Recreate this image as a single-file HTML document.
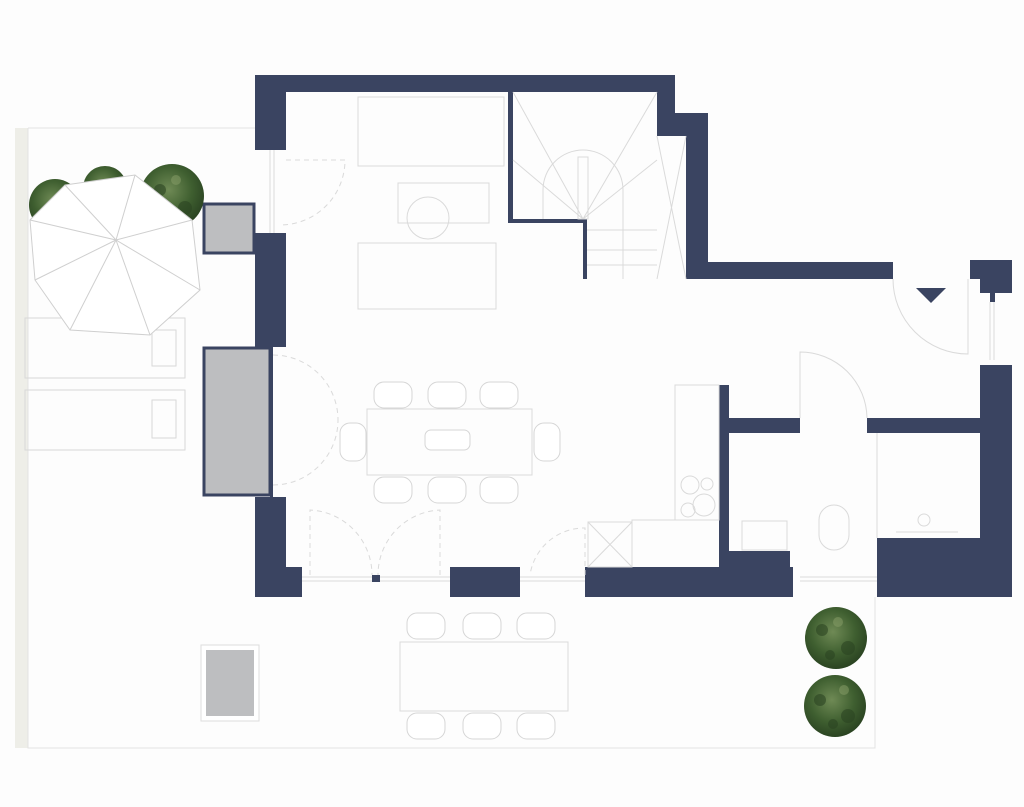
<!DOCTYPE html>
<html><head><meta charset="utf-8"><style>
html,body{margin:0;padding:0;background:#fdfdfd;}
svg{display:block}
</style></head><body>
<svg width="1024" height="807" viewBox="0 0 1024 807" xmlns="http://www.w3.org/2000/svg">
<defs>
<radialGradient id="tr" cx="45%" cy="40%" r="60%">
<stop offset="0" stop-color="#6f8a55"/><stop offset="0.6" stop-color="#3f5f30"/><stop offset="1" stop-color="#2b4422"/>
</radialGradient>
</defs>
<rect width="1024" height="807" fill="#fdfdfd"/>
<!-- terrace -->
<rect x="15" y="128" width="13" height="620" fill="#eeeee8"/>
<path d="M28 128 H255 M28 128 V748 H875 V597" fill="none" stroke="#e2e2e2" stroke-width="1"/>
<!-- gray boxes -->
<rect x="204" y="204" width="50" height="49" fill="#bdbec0" stroke="#3a4461" stroke-width="3"/>
<rect x="204" y="348" width="66" height="147" fill="#bdbec0" stroke="#3a4461" stroke-width="3"/>
<rect x="201" y="645" width="58" height="76" fill="#fff" stroke="#ddd"/>
<rect x="206" y="650" width="48" height="66" fill="#bdbec0"/>
<!-- loungers -->
<g fill="none" stroke="#d8d8d8">
<rect x="25" y="318" width="160" height="60"/><rect x="152" y="330" width="24" height="36"/>
<rect x="25" y="390" width="160" height="60"/><rect x="152" y="400" width="24" height="38"/>
</g>
<!-- trees -->
<g fill="url(#tr)">
<circle cx="55" cy="205" r="26"/>
<circle cx="105" cy="188" r="22"/>
<circle cx="172" cy="196" r="32"/>
<circle cx="836" cy="638" r="31"/>
<circle cx="835" cy="706" r="31"/>
</g>
<g fill="#2b4422" opacity="0.6">
<circle cx="822" cy="630" r="6"/><circle cx="848" cy="648" r="7"/><circle cx="830" cy="655" r="5"/>
<circle cx="820" cy="700" r="6"/><circle cx="848" cy="716" r="7"/><circle cx="833" cy="724" r="5"/>
<circle cx="160" cy="190" r="6"/><circle cx="185" cy="208" r="7"/>
</g>
<g fill="#8aa06a" opacity="0.5">
<circle cx="838" cy="622" r="5"/><circle cx="844" cy="690" r="5"/><circle cx="176" cy="180" r="5"/>
</g>
<!-- umbrella -->
<g stroke="#cfcfcf" fill="#fff">
<polygon points="65,185 135,175 192,220 200,290 150,335 70,330 35,280 30,220"/>
<path d="M116 240 L65 185 M116 240 L135 175 M116 240 L192 220 M116 240 L200 290 M116 240 L150 335 M116 240 L70 330 M116 240 L35 280 M116 240 L30 220" fill="none"/>
</g>
<!-- walls -->
<g fill="#3a4461">
<rect x="255" y="75" width="420" height="17"/>
<rect x="255" y="75" width="31" height="75"/>
<rect x="255" y="233" width="31" height="114"/>
<rect x="255" y="497" width="31" height="100"/>
<rect x="255" y="567" width="47" height="30"/>
<rect x="372" y="575" width="8" height="7"/>
<rect x="450" y="567" width="70" height="30"/>
<rect x="585" y="567" width="208" height="30"/>
<path d="M657 75 H675 V113 H708 V262 H893 V279 H686 V136 H657 Z"/>
<path d="M508 92 H513 V219 H587 V279 H583 V223 H508 Z"/>
<path d="M970 260 H1012 V293 H995 V302 H990 V293 H980 V279 H970 Z"/>
<rect x="980" y="365" width="32" height="232"/>
<rect x="877" y="538" width="135" height="59"/>
<rect x="719" y="385" width="10" height="170"/>
<rect x="719" y="551" width="71" height="46"/>
<rect x="729" y="418" width="71" height="15"/>
<rect x="867" y="418" width="113" height="15"/>
<polygon points="916,288 946,288 931,303"/>
</g>
<rect x="270" y="347" width="3" height="150" fill="#3a4461"/>
<!-- light furniture -->
<g fill="none" stroke="#dadada" stroke-width="1">
<rect x="358" y="97" width="146" height="69"/>
<rect x="398" y="183" width="91" height="40"/>
<circle cx="428" cy="218" r="21"/>
<rect x="358" y="243" width="138" height="66"/>
<rect x="367" y="409" width="165" height="66"/>
<rect x="400" y="642" width="168" height="69"/>
<rect x="588" y="522" width="44" height="45"/>
<path d="M588 522 L632 567 M632 522 L588 567"/>
<rect x="675" y="385" width="44" height="135"/>
<path d="M632 567 V520 H675"/>
<circle cx="690" cy="485" r="9"/><circle cx="704" cy="505" r="11"/><circle cx="688" cy="510" r="7"/><circle cx="707" cy="484" r="6"/>
<rect x="742" y="521" width="45" height="29"/>
<rect x="819" y="505" width="30" height="45" rx="15"/>
<path d="M896 532 H958 M877 433 V538"/>
<circle cx="924" cy="520" r="6"/>
<path d="M513 92 L583 219 M657 92 L583 219 M513 160 L583 219 M657 160 L583 219"/>
<path d="M543 219 V190 A40 40 0 0 1 623 190 V279"/>
<rect x="578" y="157" width="10" height="62"/>
<path d="M587 230 H657 M587 250 H657 M587 265 H657 M657 136 L686 279 M686 136 L657 279"/>
<path d="M800 418 V352 A67 67 0 0 1 867 418"/>
<path d="M893 279 A75 75 0 0 0 968 354 V279"/>
<path d="M286 160 H345 A65 65 0 0 1 280 225" stroke-dasharray="5 4"/>
<path d="M273 355 A65 65 0 0 1 338 420 M273 485 A65 65 0 0 0 338 420" stroke-dasharray="5 4"/>
<path d="M310 575 V510 A65 65 0 0 1 372 575 M440 575 V510 A65 65 0 0 0 378 575 M585 575 V528 A55 55 0 0 0 530 575" stroke-dasharray="5 4"/>
<path d="M302 577 H372 M302 581 H372 M380 577 H450 M380 581 H450 M520 577 H585 M520 581 H585 M800 577 H877 M800 581 H877 M990 302 V360 M994 302 V360 M270 150 V233 M274 150 V233"/>
</g>
<!-- chairs -->
<g fill="#fff" stroke="#d6d6d6">
<rect x="374" y="382" width="38" height="26" rx="10"/><rect x="428" y="382" width="38" height="26" rx="10"/><rect x="480" y="382" width="38" height="26" rx="10"/>
<rect x="374" y="477" width="38" height="26" rx="10"/><rect x="428" y="477" width="38" height="26" rx="10"/><rect x="480" y="477" width="38" height="26" rx="10"/>
<rect x="340" y="423" width="26" height="38" rx="10"/><rect x="534" y="423" width="26" height="38" rx="10"/>
<rect x="407" y="613" width="38" height="26" rx="10"/><rect x="463" y="613" width="38" height="26" rx="10"/><rect x="517" y="613" width="38" height="26" rx="10"/>
<rect x="407" y="713" width="38" height="26" rx="10"/><rect x="463" y="713" width="38" height="26" rx="10"/><rect x="517" y="713" width="38" height="26" rx="10"/>
<rect x="425" y="430" width="45" height="20" rx="6"/>
</g>
</svg>
</body></html>
